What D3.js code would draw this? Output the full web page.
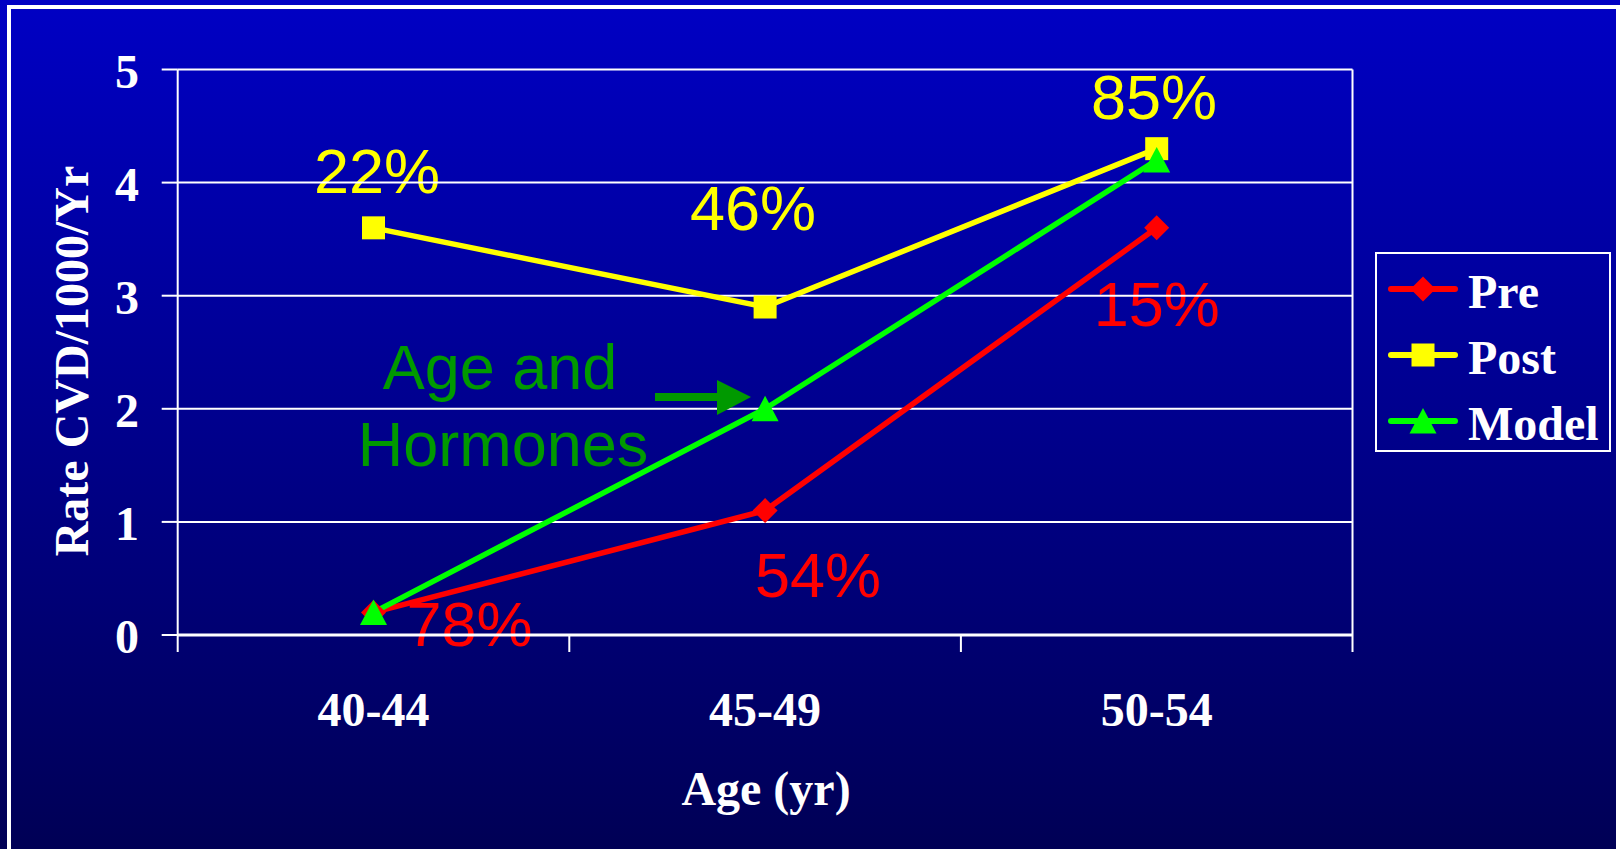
<!DOCTYPE html>
<html>
<head>
<meta charset="utf-8">
<script src="https://cdn.jsdelivr.net/npm/d3@7"></script>
<style>
  html, body { margin: 0; padding: 0; background: #000055; overflow: hidden; }
  svg { display: block; }
</style>
</head>
<body>
<svg id="chart" width="1620" height="849"></svg>
<script>
// ---------- data ----------
const categories = ["40-44", "45-49", "50-54"];
const preValues = [0.2, 1.1, 3.6];
const postValues = [3.6, 2.9, 4.3];
const modelValues = [0.2, 2.0, 4.2];
const yTicks = [0, 1, 2, 3, 4, 5];
const seriesNames = ["Pre", "Post", "Model"];
const prePctLabels = ["78%", "54%", "15%"];
const postPctLabels = ["22%", "46%", "85%"];
const annotationLines = ["Age and", "Hormones"];
const xTitle = "Age (yr)";
const yTitle = "Rate CVD/1000/Yr";

// ---------- layout ----------
const W = 1620, H = 849;
const plot = { left: 177.7, right: 1352.5, top: 69.5, bottom: 635 };
const serif = "'Liberation Serif','Times New Roman',serif";
const sans = "'Liberation Sans',Arial,sans-serif";

const svg = d3.select("#chart");
const defs = svg.append("defs");
const grad = defs.append("linearGradient").attr("id", "bg")
  .attr("x1", 0).attr("y1", 0).attr("x2", 0).attr("y2", 1);
grad.append("stop").attr("offset", "0%").attr("stop-color", "#0000c4");
grad.append("stop").attr("offset", "100%").attr("stop-color", "#000055");

svg.append("rect").attr("width", W).attr("height", H).attr("fill", "url(#bg)");
// outer frame
svg.append("rect").attr("x", 9).attr("y", 7).attr("width", 1609).attr("height", 900)
  .attr("fill", "none").attr("stroke", "#ffffff").attr("stroke-width", 4);

const x = d3.scalePoint().domain(categories).range([plot.left, plot.right]).padding(0.5);
const xBand = d3.scaleBand().domain(categories).range([plot.left, plot.right]).padding(0);
const y = d3.scaleLinear().domain([0, 5]).range([plot.bottom, plot.top]);

const series = [
  { name: "Pre", values: preValues, color: "#ff0000", marker: "diamond", labels: prePctLabels,
    offsets: [[96, 34], [53, 86], [0, 98]] },
  { name: "Post", values: postValues, color: "#ffff00", marker: "square", labels: postPctLabels,
    offsets: [[3.5, -35], [-12, -77.5], [-2.6, -30]] },
  { name: "Model", values: modelValues, color: "#00ff00", marker: "triangle", labels: null, offsets: null }
];

// ---------- percent labels (under grid) ----------
const lblG = svg.append("g");
series.forEach(s => {
  if (!s.labels) return;
  s.labels.forEach((t, i) => {
    lblG.append("text")
      .attr("x", x(categories[i]) + s.offsets[i][0])
      .attr("y", y(s.values[i]) + s.offsets[i][1])
      .attr("text-anchor", "middle")
      .attr("font-family", sans).attr("font-size", 63)
      .attr("fill", s.color).text(t);
  });
});

// ---------- grid & axes ----------
const gridG = svg.append("g");
gridG.selectAll("line.grid").data(yTicks).join("line")
  .attr("x1", plot.left).attr("x2", plot.right)
  .attr("y1", d => y(d)).attr("y2", d => y(d))
  .attr("stroke", "#ffffff").attr("stroke-width", 2);
// y tick marks
gridG.selectAll("line.yt").data(yTicks).join("line")
  .attr("x1", plot.left - 16).attr("x2", plot.left)
  .attr("y1", d => y(d)).attr("y2", d => y(d))
  .attr("stroke", "#ffffff").attr("stroke-width", 2);
// vertical boundaries (left axis, right border, x ticks)
const bounds = categories.map(c => xBand(c)).concat([plot.right]);
gridG.selectAll("line.xt").data(bounds).join("line")
  .attr("x1", d => d).attr("x2", d => d)
  .attr("y1", (d, i) => (i === 0 || i === bounds.length - 1) ? plot.top : plot.bottom)
  .attr("y2", plot.bottom + 17)
  .attr("stroke", "#ffffff").attr("stroke-width", 2);
// x axis line thicker
gridG.append("line").attr("x1", plot.left).attr("x2", plot.right)
  .attr("y1", y(0)).attr("y2", y(0)).attr("stroke", "#ffffff").attr("stroke-width", 3);

// y tick labels
svg.append("g").selectAll("text").data(yTicks).join("text")
  .attr("x", 139).attr("y", d => y(d) + 18)
  .attr("text-anchor", "end")
  .attr("font-family", serif).attr("font-weight", "bold").attr("font-size", 48)
  .attr("fill", "#ffffff").text(d => d);

// x tick labels
svg.append("g").selectAll("text").data(categories).join("text")
  .attr("x", d => x(d)).attr("y", 726)
  .attr("text-anchor", "middle")
  .attr("font-family", serif).attr("font-weight", "bold").attr("font-size", 48)
  .attr("fill", "#ffffff").text(d => d);

// axis titles
svg.append("text").attr("x", 766).attr("y", 805).attr("text-anchor", "middle")
  .attr("font-family", serif).attr("font-weight", "bold").attr("font-size", 48)
  .attr("fill", "#ffffff").text(xTitle);
svg.append("text").attr("transform", "translate(88,361) rotate(-90)").attr("text-anchor", "middle")
  .attr("font-family", serif).attr("font-weight", "bold").attr("font-size", 48)
  .attr("fill", "#ffffff").text(yTitle);

// ---------- markers ----------
function markerPath(type) {
  if (type === "diamond") return "M0,-12.5L12.5,0L0,12.5L-12.5,0Z";
  if (type === "square") return "M-11.5,-11.5H11.5V11.5H-11.5Z";
  return "M0,-13L13.5,12.5L-13.5,12.5Z";
}

// ---------- series ----------
const line = d3.line().x((d, i) => x(categories[i])).y(d => y(d));
const serG = svg.append("g");
series.forEach(s => {
  serG.append("path").attr("d", line(s.values))
    .attr("fill", "none").attr("stroke", s.color).attr("stroke-width", 5.5)
    .attr("stroke-linejoin", "round");
});
series.forEach(s => {
  serG.append("g").selectAll("path").data(s.values).join("path")
    .attr("transform", (d, i) => `translate(${x(categories[i])},${y(d)})`)
    .attr("d", markerPath(s.marker))
    .attr("fill", s.color);
});

// ---------- annotation ----------
const annG = svg.append("g");
annG.append("text").attr("x", 500).attr("y", 389).attr("text-anchor", "middle")
  .attr("font-family", sans).attr("font-size", 63).attr("fill", "#009900").text(annotationLines[0]);
annG.append("text").attr("x", 503).attr("y", 466).attr("text-anchor", "middle")
  .attr("font-family", sans).attr("font-size", 63).attr("fill", "#009900").text(annotationLines[1]);
annG.append("line").attr("x1", 655).attr("x2", 720).attr("y1", 397).attr("y2", 397)
  .attr("stroke", "#009900").attr("stroke-width", 8);
annG.append("path").attr("d", "M751,397L717,380L717,415Z").attr("fill", "#009900");

// ---------- legend ----------
const lg = svg.append("g");
lg.append("rect").attr("x", 1376).attr("y", 253).attr("width", 234).attr("height", 198)
  .attr("fill", "none").attr("stroke", "#ffffff").attr("stroke-width", 2);
const legendY = [289, 355, 421];
series.forEach((s, i) => {
  const g = lg.append("g").attr("transform", `translate(0,${legendY[i]})`);
  g.append("line").attr("x1", 1391).attr("x2", 1455).attr("y1", 0).attr("y2", 0)
    .attr("stroke", s.color).attr("stroke-width", 6).attr("stroke-linecap", "round");
  g.append("path").attr("transform", "translate(1423,0)").attr("d", markerPath(s.marker)).attr("fill", s.color);
  g.append("text").attr("x", 1468).attr("y", 19)
    .attr("font-family", serif).attr("font-weight", "bold").attr("font-size", 48)
    .attr("fill", "#ffffff").text(seriesNames[i]);
});
</script>
</body>
</html>
